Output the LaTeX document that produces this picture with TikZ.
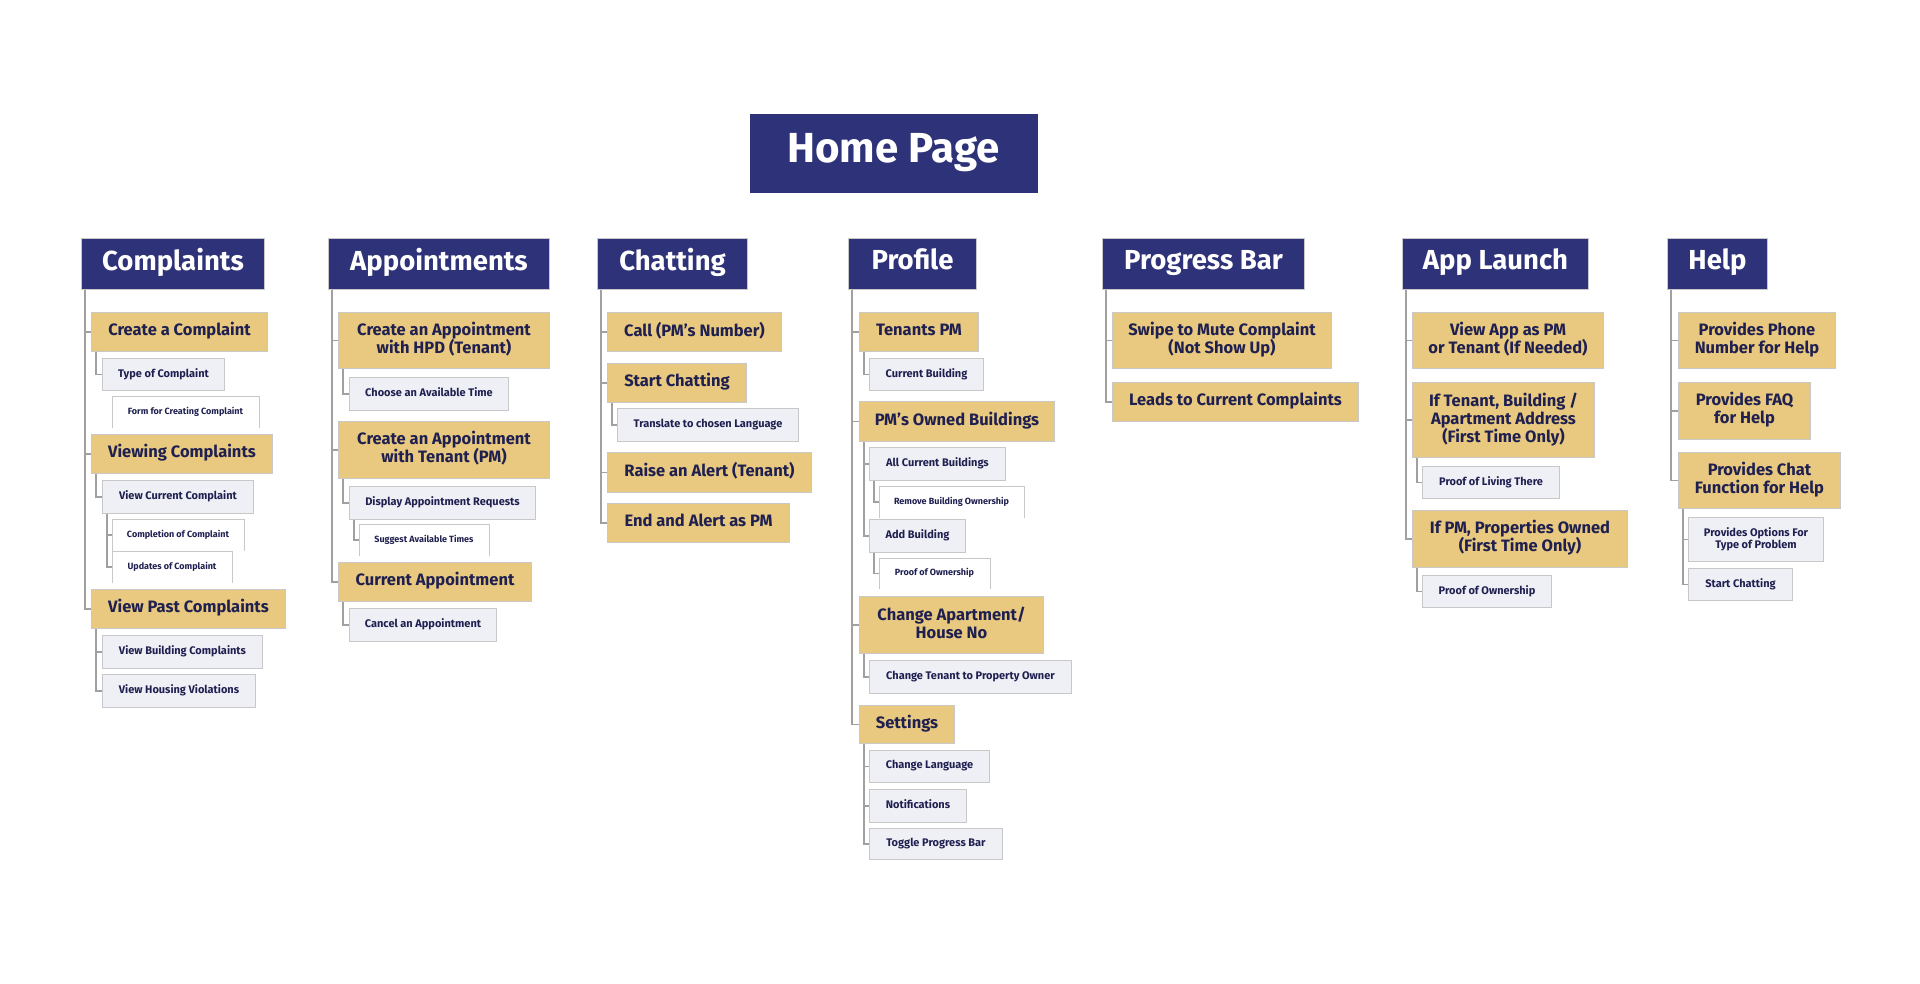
\documentclass[tikz,border=0pt]{standalone}
\usepackage{fontspec}
\setmainfont{Fira Sans}
\definecolor{navy}{HTML}{2E3278}
\definecolor{gold}{HTML}{E8C97F}
\definecolor{pale}{HTML}{EFF0F6}
\definecolor{ink}{HTML}{1F2050}
\definecolor{linegray}{HTML}{A0A0A0}
\definecolor{edgegray}{HTML}{C8C8C8}
\newcommand\mbx[7]{\node[#1, anchor=north west, minimum width={#5pt-#3pt}, minimum height={#6pt-#4pt}] (#2) at (#3,#4) {#7};}
\newcommand\wbx[6]{\node[whitebox, anchor=north west, minimum width={#4pt-#2pt}, minimum height={#5pt-#3pt}] (#1) at (#2,#3) {#6};
  \draw[wline] (#1.south west) -- (#1.north west) -- (#1.north east) -- (#1.south east);}
\begin{document}
\begin{tikzpicture}[x=1pt,y=-1pt,
  basebox/.style={inner sep=0pt, align=center, line width=1pt,
    execute at begin node=\strut, execute at end node=\strut},
  homebox/.style={basebox, fill=navy, text=white, font=\bfseries\fontsize{42}{44}\selectfont},
  headbox/.style={basebox, fill=navy, draw=edgegray, text=white, font=\bfseries\fontsize{27.5}{30}\selectfont},
  goldbox/.style={basebox, fill=gold, draw=edgegray, text=ink, font=\bfseries\fontsize{16.5}{18}\selectfont},
  palebox/.style={basebox, fill=pale, draw=edgegray, text=ink, font=\bfseries\fontsize{11}{12}\selectfont},
  whitebox/.style={basebox, fill=white, text=ink, font=\bfseries\fontsize{9}{10}\selectfont},
  wline/.style={draw=edgegray, line width=1pt},
  conn/.style={draw=linegray, line width=1.5pt}
]
\useasboundingbox[fill=white] (0,0) rectangle (1920,984);

% Title
\mbx{homebox}{home}{749}{114}{1037}{193}{Home Page}

% Headers
\mbx{headbox}{hC}{81}{238}{264}{289}{Complaints}
\mbx{headbox}{hA}{328}{238}{549}{289}{Appointments}
\mbx{headbox}{hH}{597}{238}{747}{289}{Chatting}
\mbx{headbox}{hP}{848}{238}{976}{289}{Profile}
\mbx{headbox}{hG}{1102}{238}{1304}{289}{Progress Bar}
\mbx{headbox}{hL}{1402}{238}{1588}{289}{App Launch}
\mbx{headbox}{hE}{1667}{238}{1767}{289}{Help}

% Complaints
\mbx{goldbox}{c1}{91}{312}{267}{351}{Create a Complaint}
\mbx{palebox}{c1a}{102}{358}{224}{390}{Type of Complaint}
\wbx{c1a1}{112}{396}{258}{427}{Form for Creating Complaint}
\mbx{goldbox}{c2}{91}{434}{272}{473}{Viewing Complaints}
\mbx{palebox}{c2a}{102}{480}{253}{513}{View Current Complaint}
\wbx{c2a1}{112}{519}{243}{550}{Completion of Complaint}
\wbx{c2a2}{112}{551}{231}{582}{Updates of Complaint}
\mbx{goldbox}{c3}{91}{589}{285}{628}{View Past Complaints}
\mbx{palebox}{c3a}{102}{635}{262}{668}{View Building Complaints}
\mbx{palebox}{c3b}{102}{674}{255}{707}{View Housing Violations}

% Appointments
\mbx{goldbox}{a1}{338}{312}{549}{368}{Create an Appointment\\with HPD (Tenant)}
\mbx{palebox}{a1a}{349}{377}{508}{410}{Choose an Available Time}
\mbx{goldbox}{a2}{338}{421}{549}{478}{Create an Appointment\\with Tenant (PM)}
\mbx{palebox}{a2a}{349}{486}{535}{519}{Display Appointment Requests}
\wbx{a2a1}{359}{524}{488}{555}{Suggest Available Times}
\mbx{goldbox}{a3}{338}{562}{531}{601}{Current Appointment}
\mbx{palebox}{a3a}{349}{608}{496}{641}{Cancel an Appointment}

% Chatting
\mbx{goldbox}{h1}{607}{312}{781}{351}{Call (PM’s Number)}
\mbx{goldbox}{h2}{607}{363}{746}{402}{Start Chatting}
\mbx{palebox}{h2a}{617}{408}{798}{441}{Translate to chosen Language}
\mbx{goldbox}{h3}{607}{452}{811}{492}{Raise an Alert (Tenant)}
\mbx{goldbox}{h4}{607}{503}{789}{542}{End and Alert as PM}

% Profile
\mbx{goldbox}{p1}{859}{312}{978}{351}{Tenants PM}
\mbx{palebox}{p1a}{869}{358}{983}{390}{Current Building}
\mbx{goldbox}{p2}{859}{401}{1054}{441}{PM’s Owned Buildings}
\mbx{palebox}{p2a}{869}{447}{1005}{480}{All Current Buildings}
\wbx{p2a1}{879}{486}{1023}{517}{Remove Building Ownership}
\mbx{palebox}{p2b}{869}{519}{965}{552}{Add Building}
\wbx{p2b1}{879}{558}{989}{588}{Proof of Ownership}
\mbx{goldbox}{p3}{859}{596}{1043}{653}{Change Apartment/\\House No}
\mbx{palebox}{p3a}{869}{660}{1071}{693}{Change Tenant to Property Owner}
\mbx{goldbox}{p4}{859}{705}{954}{743}{Settings}
\mbx{palebox}{p4a}{869}{750}{989}{782}{Change Language}
\mbx{palebox}{p4b}{869}{789}{966}{822}{Notifications}
\mbx{palebox}{p4c}{869}{828}{1002}{859}{Toggle Progress Bar}

% Progress Bar
\mbx{goldbox}{g1}{1112}{312}{1331}{368}{Swipe to Mute Complaint\\(Not Show Up)}
\mbx{goldbox}{g2}{1112}{382}{1358}{421}{Leads to Current Complaints}

% App Launch
\mbx{goldbox}{l1}{1412}{312}{1603}{368}{View App as PM\\or Tenant (If Needed)}
\mbx{goldbox}{l2}{1412}{382}{1594}{457}{If Tenant, Building /\\Apartment Address\\(First Time Only)}
\mbx{palebox}{l2a}{1422}{466}{1559}{498}{Proof of Living There}
\mbx{goldbox}{l3}{1412}{510}{1627}{567}{If PM, Properties Owned\\(First Time Only)}
\mbx{palebox}{l3a}{1422}{575}{1551}{607}{Proof of Ownership}

% Help
\mbx{goldbox}{e1}{1678}{312}{1835}{368}{Provides Phone\\Number for Help}
\mbx{goldbox}{e2}{1678}{382}{1810}{439}{Provides FAQ\\for Help}
\mbx{goldbox}{e3}{1678}{452}{1840}{508}{Provides Chat\\Function for Help}
\mbx{palebox}{e3a}{1688}{517}{1823}{561}{Provides Options For\\Type of Problem}
\mbx{palebox}{e3b}{1688}{568}{1792}{600}{Start Chatting}

% Connectors from headers
\foreach \h/\kids in {hC/{c1,c2,c3}, hA/{a1,a2,a3}, hH/{h1,h2,h3,h4}, hP/{p1,p2,p3,p4}, hG/{g1,g2}, hL/{l1,l2,l3}, hE/{e1,e2,e3}}{
  \foreach \k in \kids { \draw[conn] ([xshift=4pt]\h.south west) |- (\k.west); }
}
% Connectors below
\foreach \p/\k in {c1/c1a, c2/c2a, c2a/c2a1, c2a/c2a2, c3/c3a, c3/c3b,
  a1/a1a, a2/a2a, a2a/a2a1, a3/a3a, h2/h2a,
  p1/p1a, p2/p2a, p2/p2b, p2a/p2a1, p2b/p2b1, p3/p3a, p4/p4a, p4/p4b, p4/p4c,
  l2/l2a, l3/l3a, e3/e3a, e3/e3b}{
  \draw[conn] ([xshift=5pt]\p.south west) |- (\k.west);
}
\end{tikzpicture}
\end{document}
